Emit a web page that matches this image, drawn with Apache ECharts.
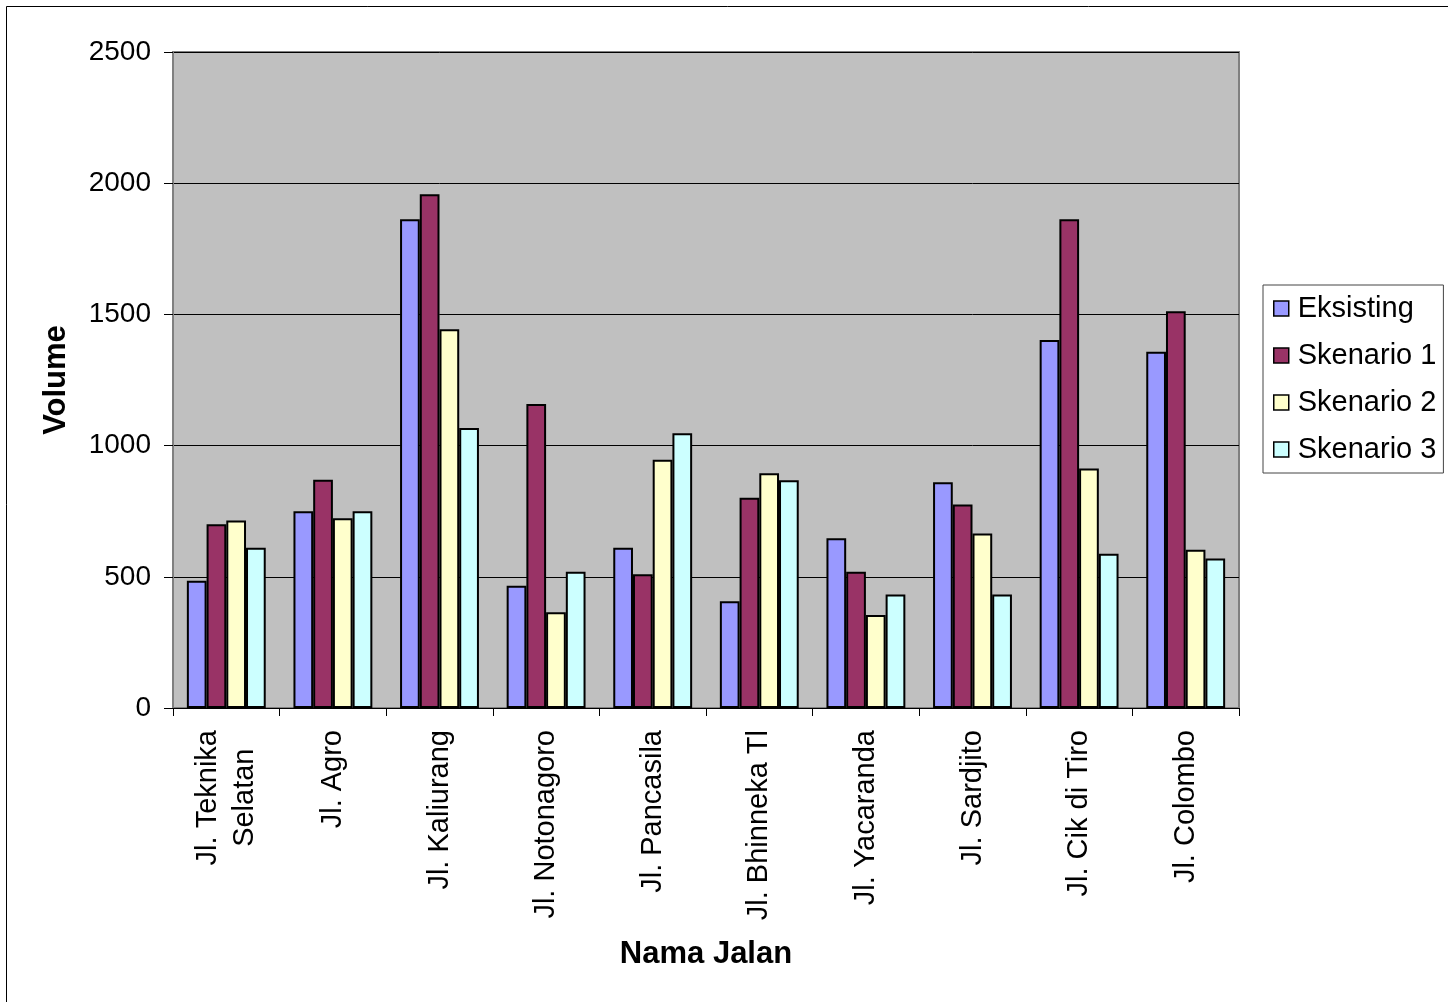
<!DOCTYPE html>
<html>
<head>
<meta charset="utf-8">
<script src="https://cdn.jsdelivr.net/npm/echarts@6/dist/echarts.min.js"></script>
<style>
html,body{margin:0;padding:0;background:#fff;}
#chart{width:1448px;height:1002px;}
</style>
</head>
<body>
<div id="chart"></div>
<script>
const categories = ['Jl. Teknika\nSelatan','Jl. Agro','Jl. Kaliurang','Jl. Notonagoro','Jl. Pancasila','Jl. Bhinneka Tl','Jl. Yacaranda','Jl. Sardjito','Jl. Cik di Tiro','Jl. Colombo'];
const eksisting  = [485, 750, 1863, 466, 611, 407, 647, 860, 1402, 1358];
const skenario1  = [700, 870, 1958, 1159, 510, 801, 519, 776, 1863, 1512];
const skenario2  = [715, 723, 1443, 365, 946, 895, 354, 665, 913, 603];
const skenario3  = [611, 750, 1067, 519, 1047, 868, 433, 433, 588, 570];
const seriesNames = ['Eksisting','Skenario 1','Skenario 2','Skenario 3'];
const seriesColors = ['#9999FF','#993366','#FFFFCC','#CCFFFF'];
const yTicks = [0, 500, 1000, 1500, 2000, 2500];

const FONT = '"Liberation Sans", Arial, sans-serif';
const chart = echarts.init(document.getElementById('chart'), null, {renderer:'canvas'});
const values = [eksisting, skenario1, skenario2, skenario3];

chart.setOption({
  backgroundColor: '#ffffff',
  animation: false,
  textStyle: {fontFamily: FONT},
  graphic: [{
    type: 'rect', left: 4, top: 4, silent: true,
    shape: {width: 1500, height: 1100},
    style: {fill: 'none', stroke: '#000', lineWidth: 1}
  }],
  grid: {
    left: 173, top: 52, width: 1066, height: 656,
    show: true, backgroundColor: '#C0C0C0', borderColor: '#808080', borderWidth: 2
  },
  legend: {
    orient: 'vertical', left: 1263, top: 285,
    padding: [9, 7, 9, 10],
    itemGap: 18, itemWidth: 15, itemHeight: 15,
    borderColor: '#444', borderWidth: 1, backgroundColor: '#fff',
    icon: 'rect',
    itemStyle: {borderColor: '#000', borderWidth: 1.5},
    textStyle: {fontSize: 29, fontFamily: FONT, color: '#000', padding: [0,0,0,4]},
    data: seriesNames
  },
  xAxis: {
    type: 'category', data: categories,
    name: 'Nama Jalan', nameLocation: 'middle', nameGap: 231,
    nameTextStyle: {fontSize: 31, fontWeight: 'bold', color: '#000', fontFamily: FONT},
    axisLine: {lineStyle: {color: '#000', width: 1}},
    axisTick: {show: true, length: 8, lineStyle: {color: '#000'}},
    axisLabel: {
      rotate: 90, margin: 22, interval: 0,
      fontSize: 29, color: '#000', fontFamily: FONT,
      formatter: v => v.split('\n').map(s => '{c|' + s + '}').join('\n'),
      rich: {c: {align: 'center', fontSize: 29, lineHeight: 37, color: '#000', fontFamily: FONT}}
    },
    splitLine: {show: false}
  },
  yAxis: {
    type: 'value', min: yTicks[0], max: yTicks[yTicks.length-1], interval: 500,
    name: 'Volume', nameLocation: 'middle', nameGap: 101, nameRotate: 90,
    nameTextStyle: {fontSize: 31, fontWeight: 'bold', color: '#000', fontFamily: FONT},
    axisLine: {show: true, lineStyle: {color: '#808080', width: 2}},
    axisTick: {show: true, length: 9, lineStyle: {color: '#000'}},
    axisLabel: {margin: 22, fontSize: 28, color: '#000', fontFamily: FONT, formatter: v => String(v)},
    splitLine: {show: true, lineStyle: {color: '#000', width: 1}}
  },
  series: seriesNames.map((n, i) => ({
    name: n, type: 'bar', data: values[i],
    barGap: '0%', barCategoryGap: '26%',
    itemStyle: {color: seriesColors[i], borderColor: '#000', borderWidth: 2}
  }))
});
</script>
</body>
</html>
